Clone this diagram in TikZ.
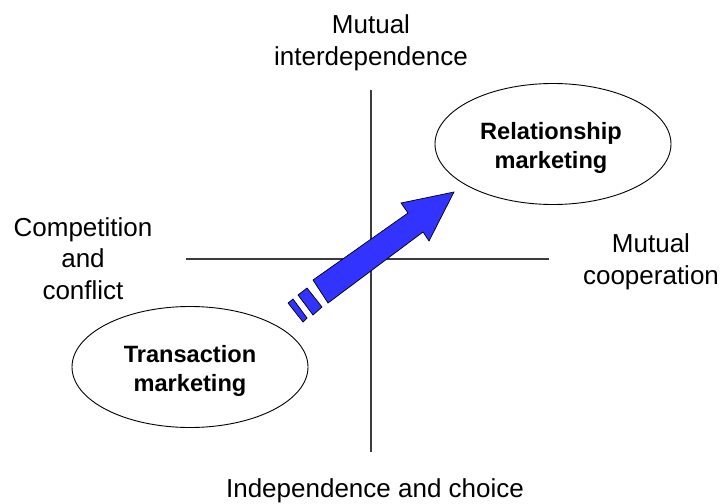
\documentclass[tikz,border=0pt]{standalone}
\usepackage{fontspec}
\setmainfont{Liberation Sans}
\usetikzlibrary{shapes.geometric}
\definecolor{arrowblue}{RGB}{51,51,255}
\definecolor{axisgray}{RGB}{60,60,60}
\tikzset{
  axislabel/.style={inner sep=0pt, align=center, font=\fontsize{26}{31.5}\selectfont},
  bubble/.style={ellipse, draw=black, line width=0.9pt, inner sep=0pt,
    minimum width=236pt, minimum height=121pt},
  bubbletext/.style={inner sep=0pt, align=center, font=\bfseries\fontsize{23.6}{29}\selectfont},
  axis/.style={draw=axisgray, line width=1.1pt},
  bigarrow/.style={fill=arrowblue, draw=black, line width=0.7pt, line join=miter}
}
\begin{document}
\begin{tikzpicture}[x=1pt,y=-1pt]
\useasboundingbox (0,0) rectangle (722,503);
% axes
\coordinate (vtop) at (371,90);
\coordinate (vbot) at (371,452);
\coordinate (hleft) at (186,259);
\coordinate (hright) at (549,259);
\draw[axis] (vtop) -- (vbot);
\draw[axis] (hleft) -- (hright);
% labels
\node[axislabel] (top) at (371,43) {Mutual\\interdependence};
\node[axislabel] (left) at (83,258.5) {Competition\\and\\conflict};
\node[axislabel] (right) at (651,262) {Mutual\\cooperation};
\node[axislabel] (bottom) at (375,491) {Independence and choice};
% ellipses
\node[bubble] (rel) at (553,144) {};
\node[bubbletext] (reltext) at (551,148) {Relationship\\marketing};
\node[bubble] (trans) at (190,367) {};
\node[bubbletext] (transtext) at (190,371) {Transaction\\marketing};
% arrow
\draw[bigarrow] (454,192) -- (401,203) -- (408,213) -- (313,280) -- (328,303)
  -- (423,232) -- (429,241) -- cycle;
\draw[bigarrow] (307,288) -- (322,307) -- (313,315) -- (298,295) -- cycle;
\draw[bigarrow] (293,299) -- (307,318) -- (303,322) -- (288,303) -- cycle;
\end{tikzpicture}
\end{document}
